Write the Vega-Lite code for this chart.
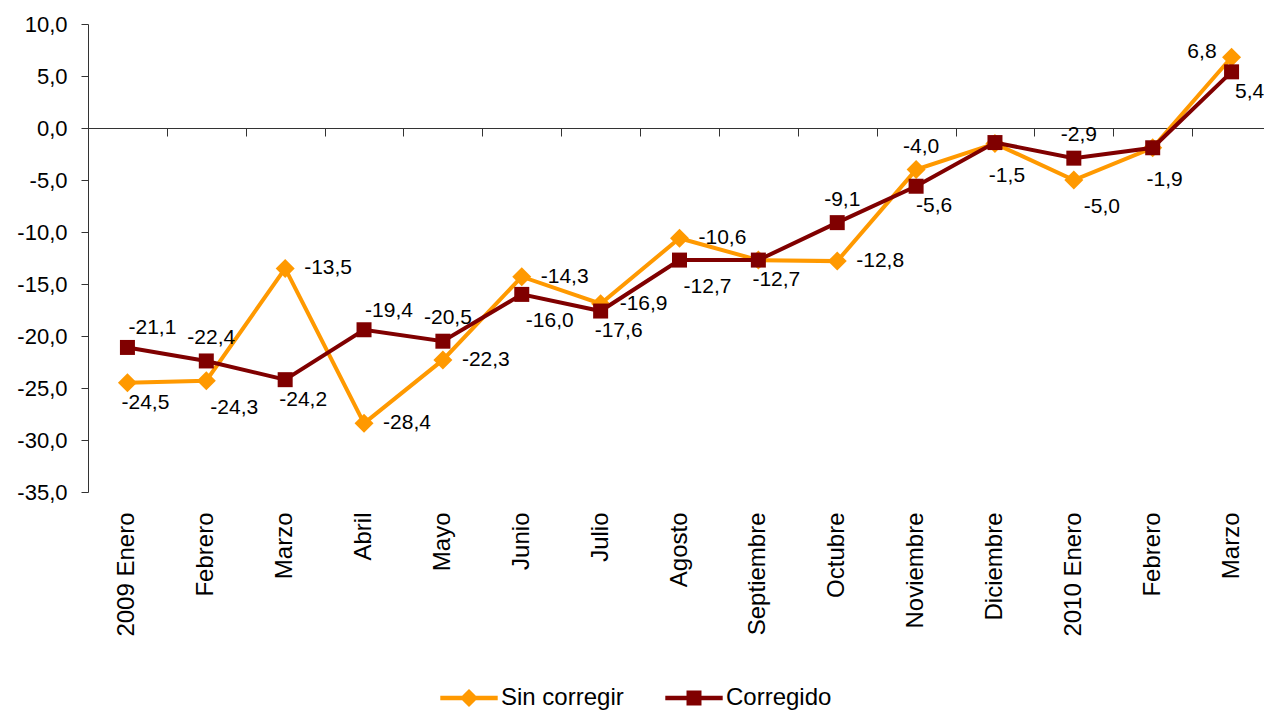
{
  "$schema": "https://vega.github.io/schema/vega-lite/v6.json",
  "width": 1176,
  "height": 468,
  "autosize": {"type": "none"},
  "padding": {"left": 88, "top": 24, "right": 0, "bottom": 221},
  "background": "white",
  "data": {
    "values": [
      {"mes": "2009 Enero", "serie": "Sin corregir", "valor": -24.5, "pos": "below-right-near"},
      {"mes": "Febrero", "serie": "Sin corregir", "valor": -24.3, "pos": "below-right"},
      {"mes": "Marzo", "serie": "Sin corregir", "valor": -13.5, "pos": "right"},
      {"mes": "Abril", "serie": "Sin corregir", "valor": -28.4, "pos": "right"},
      {"mes": "Mayo", "serie": "Sin corregir", "valor": -22.3, "pos": "right"},
      {"mes": "Junio", "serie": "Sin corregir", "valor": -14.3, "pos": "right"},
      {"mes": "Julio", "serie": "Sin corregir", "valor": -16.9, "pos": "right"},
      {"mes": "Agosto", "serie": "Sin corregir", "valor": -10.6, "pos": "right"},
      {"mes": "Septiembre", "serie": "Sin corregir", "valor": -12.7, "pos": "below-right-near"},
      {"mes": "Octubre", "serie": "Sin corregir", "valor": -12.8, "pos": "right"},
      {"mes": "Noviembre", "serie": "Sin corregir", "valor": -4.0, "pos": "above"},
      {"mes": "Diciembre", "serie": "Sin corregir", "valor": -1.5, "pos": "below"},
      {"mes": "2010 Enero", "serie": "Sin corregir", "valor": -5.0, "pos": "below-right"},
      {"mes": "Febrero|2010", "serie": "Sin corregir", "valor": -1.9, "pos": "below"},
      {"mes": "Marzo|2010", "serie": "Sin corregir", "valor": 6.8, "pos": "above-left"},
      {"mes": "2009 Enero", "serie": "Corregido", "valor": -21.1, "pos": "above-right"},
      {"mes": "Febrero", "serie": "Corregido", "valor": -22.4, "pos": "above"},
      {"mes": "Marzo", "serie": "Corregido", "valor": -24.2, "pos": "below-right-near"},
      {"mes": "Abril", "serie": "Corregido", "valor": -19.4, "pos": "above-right"},
      {"mes": "Mayo", "serie": "Corregido", "valor": -20.5, "pos": "above"},
      {"mes": "Junio", "serie": "Corregido", "valor": -16.0, "pos": "below-right"},
      {"mes": "Julio", "serie": "Corregido", "valor": -17.6, "pos": "below-right-near"},
      {"mes": "Agosto", "serie": "Corregido", "valor": -12.7, "pos": "below-right"},
      {"mes": "Septiembre", "serie": "Corregido", "valor": -12.7, "pos": "none"},
      {"mes": "Octubre", "serie": "Corregido", "valor": -9.1, "pos": "above"},
      {"mes": "Noviembre", "serie": "Corregido", "valor": -5.6, "pos": "below-right-near"},
      {"mes": "Diciembre", "serie": "Corregido", "valor": -1.4, "pos": "none"},
      {"mes": "2010 Enero", "serie": "Corregido", "valor": -2.9, "pos": "above"},
      {"mes": "Febrero|2010", "serie": "Corregido", "valor": -1.9, "pos": "none"},
      {"mes": "Marzo|2010", "serie": "Corregido", "valor": 5.4, "pos": "below-right-near"}
    ]
  },
  "encoding": {
    "y": {
      "field": "valor",
      "type": "quantitative",
      "scale": {"domain": [-35, 10], "nice": false, "zero": false},
      "axis": {
        "title": null,
        "values": [-35, -30, -25, -20, -15, -10, -5, 0, 5, 10],
        "format": ".1f",
        "labelFontSize": 22,
        "labelColor": "black",
        "labelPadding": 14,
        "labelFlush": false,
        "tickSize": 7,
        "tickColor": "#333333",
        "domainColor": "#333333",
        "grid": false
      }
    },
    "color": {
      "field": "serie",
      "type": "nominal",
      "scale": {"domain": ["Sin corregir", "Corregido"], "range": ["#FF9900", "#800000"]},
      "legend": {
        "orient": "none",
        "legendX": 369,
        "legendY": 662,
        "direction": "horizontal",
        "title": null,
        "labelFontSize": 24,
        "labelColor": "black",
        "symbolSize": 196,
        "labelOffset": 20,
        "columnPadding": 41,
        "encode": {
          "symbols": {
            "update": {
              "shape": {"signal": "datum.value === 'Sin corregir' ? 'M-4.1,-0.32H4.1V0.32H-4.1Z M0,-1.3L1.3,0L0,1.3L-1.3,0Z' : 'M-4.1,-0.32H4.1V0.32H-4.1Z M-1.07,-1.07H1.07V1.07H-1.07Z'"},
              "fill": {"signal": "datum.value === 'Sin corregir' ? '#FF9900' : '#800000'"},
              "stroke": {"value": "transparent"},
              "strokeWidth": {"value": 0},
              "opacity": {"value": 1},
              "fillOpacity": {"value": 1}
            }
          }
        }
      }
    }
  },
  "layer": [
    {
      "transform": [{"filter": "datum.serie === 'Sin corregir'"}],
      "mark": {"type": "line", "strokeWidth": 4},
      "encoding": {
        "x": {
          "field": "mes", "type": "nominal",
          "sort": ["2009 Enero", "Febrero", "Marzo", "Abril", "Mayo", "Junio", "Julio", "Agosto", "Septiembre", "Octubre", "Noviembre", "Diciembre", "2010 Enero", "Febrero|2010", "Marzo|2010"],
          "scale": {"type": "band", "paddingInner": 0, "paddingOuter": 0, "range": [0, 1183]},
          "axis": {
            "orient": "bottom", "title": null, "domain": false, "ticks": false,
            "labelAngle": -90, "labelAlign": "right", "labelBaseline": "middle",
            "labelPadding": 20, "labelFontSize": 24, "labelColor": "black",
            "labelExpr": "split(datum.label, '|')[0]", "labelOverlap": false, "labelLimit": 0, "grid": false
          }
        }
      }
    },
    {
      "transform": [{"filter": "datum.serie === 'Sin corregir'"}],
      "mark": {"type": "point", "shape": "diamond", "filled": true, "size": 361, "opacity": 1},
      "encoding": {
        "x": {
          "field": "mes", "type": "nominal",
          "sort": ["2009 Enero", "Febrero", "Marzo", "Abril", "Mayo", "Junio", "Julio", "Agosto", "Septiembre", "Octubre", "Noviembre", "Diciembre", "2010 Enero", "Febrero|2010", "Marzo|2010"],
          "scale": {"type": "band", "paddingInner": 0, "paddingOuter": 0, "range": [0, 1183]},
          "axis": {
            "orient": "bottom", "offset": -364, "title": null, "labels": false,
            "domain": true, "domainColor": "#333333", "ticks": true, "tickBand": "extent",
            "tickSize": 8, "tickColor": "#333333", "grid": false
          }
        }
      }
    },
    {
      "transform": [{"filter": "datum.serie === 'Corregido'"}],
      "mark": {"type": "line", "strokeWidth": 4},
      "encoding": {
        "x": {
          "field": "mes", "type": "nominal",
          "sort": ["2009 Enero", "Febrero", "Marzo", "Abril", "Mayo", "Junio", "Julio", "Agosto", "Septiembre", "Octubre", "Noviembre", "Diciembre", "2010 Enero", "Febrero|2010", "Marzo|2010"],
          "scale": {"type": "band", "paddingInner": 0, "paddingOuter": 0, "range": [0, 1183]},
          "axis": null
        }
      }
    },
    {
      "transform": [{"filter": "datum.serie === 'Corregido'"}],
      "mark": {"type": "point", "shape": "square", "filled": true, "size": 225, "opacity": 1},
      "encoding": {
        "x": {
          "field": "mes", "type": "nominal",
          "sort": ["2009 Enero", "Febrero", "Marzo", "Abril", "Mayo", "Junio", "Julio", "Agosto", "Septiembre", "Octubre", "Noviembre", "Diciembre", "2010 Enero", "Febrero|2010", "Marzo|2010"],
          "scale": {"type": "band", "paddingInner": 0, "paddingOuter": 0, "range": [0, 1183]},
          "axis": null
        }
      }
    },
    {
      "transform": [{"filter": "datum.pos === 'right'"}],
      "mark": {"type": "text", "align": "left", "baseline": "middle", "dx": 19, "dy": 0, "fontSize": 21},
      "encoding": {
        "x": {"field": "mes", "type": "nominal", "sort": ["2009 Enero", "Febrero", "Marzo", "Abril", "Mayo", "Junio", "Julio", "Agosto", "Septiembre", "Octubre", "Noviembre", "Diciembre", "2010 Enero", "Febrero|2010", "Marzo|2010"], "scale": {"type": "band", "paddingInner": 0, "paddingOuter": 0, "range": [0, 1183]}, "axis": null},
        "text": {"field": "valor", "type": "quantitative", "format": ".1f"},
        "color": {"value": "black"}
      }
    },
    {
      "transform": [{"filter": "datum.pos === 'below-right'"}],
      "mark": {"type": "text", "align": "center", "baseline": "middle", "dx": 28, "dy": 27, "fontSize": 21},
      "encoding": {
        "x": {"field": "mes", "type": "nominal", "sort": ["2009 Enero", "Febrero", "Marzo", "Abril", "Mayo", "Junio", "Julio", "Agosto", "Septiembre", "Octubre", "Noviembre", "Diciembre", "2010 Enero", "Febrero|2010", "Marzo|2010"], "scale": {"type": "band", "paddingInner": 0, "paddingOuter": 0, "range": [0, 1183]}, "axis": null},
        "text": {"field": "valor", "type": "quantitative", "format": ".1f"},
        "color": {"value": "black"}
      }
    },
    {
      "transform": [{"filter": "datum.pos === 'below-right-near'"}],
      "mark": {"type": "text", "align": "center", "baseline": "middle", "dx": 18, "dy": 20, "fontSize": 21},
      "encoding": {
        "x": {"field": "mes", "type": "nominal", "sort": ["2009 Enero", "Febrero", "Marzo", "Abril", "Mayo", "Junio", "Julio", "Agosto", "Septiembre", "Octubre", "Noviembre", "Diciembre", "2010 Enero", "Febrero|2010", "Marzo|2010"], "scale": {"type": "band", "paddingInner": 0, "paddingOuter": 0, "range": [0, 1183]}, "axis": null},
        "text": {"field": "valor", "type": "quantitative", "format": ".1f"},
        "color": {"value": "black"}
      }
    },
    {
      "transform": [{"filter": "datum.pos === 'below'"}],
      "mark": {"type": "text", "align": "center", "baseline": "middle", "dx": 12, "dy": 32, "fontSize": 21},
      "encoding": {
        "x": {"field": "mes", "type": "nominal", "sort": ["2009 Enero", "Febrero", "Marzo", "Abril", "Mayo", "Junio", "Julio", "Agosto", "Septiembre", "Octubre", "Noviembre", "Diciembre", "2010 Enero", "Febrero|2010", "Marzo|2010"], "scale": {"type": "band", "paddingInner": 0, "paddingOuter": 0, "range": [0, 1183]}, "axis": null},
        "text": {"field": "valor", "type": "quantitative", "format": ".1f"},
        "color": {"value": "black"}
      }
    },
    {
      "transform": [{"filter": "datum.pos === 'above-right'"}],
      "mark": {"type": "text", "align": "center", "baseline": "middle", "dx": 25, "dy": -19, "fontSize": 21},
      "encoding": {
        "x": {"field": "mes", "type": "nominal", "sort": ["2009 Enero", "Febrero", "Marzo", "Abril", "Mayo", "Junio", "Julio", "Agosto", "Septiembre", "Octubre", "Noviembre", "Diciembre", "2010 Enero", "Febrero|2010", "Marzo|2010"], "scale": {"type": "band", "paddingInner": 0, "paddingOuter": 0, "range": [0, 1183]}, "axis": null},
        "text": {"field": "valor", "type": "quantitative", "format": ".1f"},
        "color": {"value": "black"}
      }
    },
    {
      "transform": [{"filter": "datum.pos === 'above'"}],
      "mark": {"type": "text", "align": "center", "baseline": "middle", "dx": 5, "dy": -23, "fontSize": 21},
      "encoding": {
        "x": {"field": "mes", "type": "nominal", "sort": ["2009 Enero", "Febrero", "Marzo", "Abril", "Mayo", "Junio", "Julio", "Agosto", "Septiembre", "Octubre", "Noviembre", "Diciembre", "2010 Enero", "Febrero|2010", "Marzo|2010"], "scale": {"type": "band", "paddingInner": 0, "paddingOuter": 0, "range": [0, 1183]}, "axis": null},
        "text": {"field": "valor", "type": "quantitative", "format": ".1f"},
        "color": {"value": "black"}
      }
    },
    {
      "transform": [{"filter": "datum.pos === 'above-left'"}],
      "mark": {"type": "text", "align": "right", "baseline": "middle", "dx": -15, "dy": -5, "fontSize": 21},
      "encoding": {
        "x": {"field": "mes", "type": "nominal", "sort": ["2009 Enero", "Febrero", "Marzo", "Abril", "Mayo", "Junio", "Julio", "Agosto", "Septiembre", "Octubre", "Noviembre", "Diciembre", "2010 Enero", "Febrero|2010", "Marzo|2010"], "scale": {"type": "band", "paddingInner": 0, "paddingOuter": 0, "range": [0, 1183]}, "axis": null},
        "text": {"field": "valor", "type": "quantitative", "format": ".1f"},
        "color": {"value": "black"}
      }
    }
  ],
  "resolve": {"axis": {"x": "independent"}},
  "config": {
    "font": "Liberation Sans",
    "view": {"stroke": null},
    "axis": {"grid": false},
    "locale": {
      "number": {"decimal": ",", "thousands": ".", "grouping": [3], "currency": ["", " €"], "minus": "-"}
    }
  }
}
